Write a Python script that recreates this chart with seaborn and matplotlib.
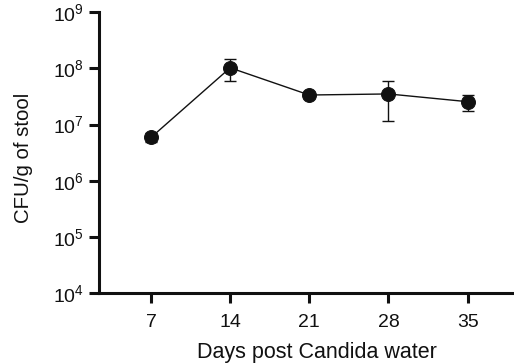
import matplotlib
matplotlib.use("Agg")
import matplotlib.pyplot as plt
import seaborn as sns
import numpy as np
import pandas as pd

days = [7, 14, 21, 28, 35]
cfu_mean = [5.9e6, 1.02e8, 3.35e7, 3.5e7, 2.55e7]
cfu_low = [4.8e6, 6.0e7, 3.0e7, 1.14e7, 1.76e7]
cfu_high = [7.2e6, 1.45e8, 3.8e7, 5.9e7, 3.35e7]
x_ticks = [7, 14, 21, 28, 35]
y_ticks = [1e4, 1e5, 1e6, 1e7, 1e8, 1e9]

sns.set_style("ticks")
plt.rcParams["font.family"] = ["Liberation Sans", "DejaVu Sans"]
plt.rcParams["mathtext.fontset"] = "custom"
plt.rcParams["mathtext.rm"] = "Liberation Sans"
plt.rcParams["mathtext.it"] = "Liberation Sans"

df = pd.DataFrame({"day": days, "cfu": cfu_mean})

fig = plt.figure(figsize=(5.14, 3.64), dpi=100)
ax = fig.add_axes([0.1926, 0.194, 0.8074, 0.773])

mean = np.array(cfu_mean)
yerr = np.vstack([mean - np.array(cfu_low), np.array(cfu_high) - mean])
ax.errorbar(days, cfu_mean, yerr=yerr, fmt="none", ecolor="#111111",
            elinewidth=1.0, capsize=4, capthick=1.0, zorder=2)
sns.lineplot(data=df, x="day", y="cfu", ax=ax, color="#111111", linewidth=1.0,
             marker="o", markersize=10, markeredgecolor="#111111",
             markerfacecolor="#111111", zorder=3)

ax.set_yscale("log")
ax.set_ylim(1e4, 1e9)
ax.set_xlim(2.4, 39.1)
ax.set_xticks(x_ticks)
ax.set_xticklabels([str(d) for d in x_ticks])
ax.set_yticks(y_ticks)
ax.set_yticklabels([rf"$10^{{{int(np.log10(v))}}}$" for v in y_ticks])
ax.minorticks_off()
ax.yaxis.set_minor_locator(matplotlib.ticker.NullLocator())

for s in ["top", "right"]:
    ax.spines[s].set_visible(False)
for s in ["left", "bottom"]:
    ax.spines[s].set_linewidth(2.2)
    ax.spines[s].set_color("#111111")
ax.tick_params(axis="both", length=7, width=2.2, color="#111111",
               labelsize=14, labelcolor="#111111")
ax.tick_params(axis="x", pad=8)
ax.tick_params(axis="y", pad=4)

ax.set_xlabel("Days post Candida water", fontsize=15.5, color="#111111")
ax.set_ylabel("CFU/g of stool", fontsize=14.7, color="#111111")
ax.xaxis.set_label_coords(0.525, -0.172)
ax.yaxis.set_label_coords(-0.159, 0.481)

fig.savefig("out.png", dpi=100)
